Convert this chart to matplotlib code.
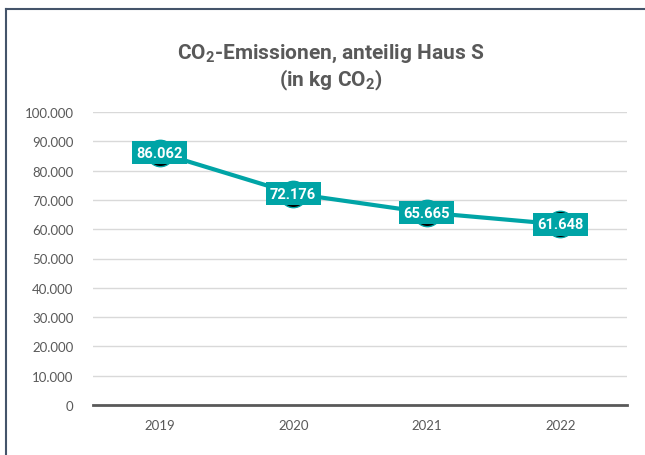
import matplotlib
matplotlib.use('Agg')
import matplotlib.pyplot as plt
from matplotlib.lines import Line2D

years = ['2019', '2020', '2021', '2022']
emissions = [86062, 72176, 65665, 61648]
labels = ['86.062', '72.176', '65.665', '61.648']
yticks = list(range(0, 100001, 10000))
ytick_labels = ['0'] + ['{:,}'.format(v).replace(',', '.') for v in yticks[1:]]

teal = '#00A4A6'
grey = '#595959'

plt.rcParams['font.family'] = ['Lato', 'DejaVu Sans']
plt.rcParams['mathtext.fontset'] = 'custom'
plt.rcParams['mathtext.rm'] = 'Roboto:bold'
plt.rcParams['mathtext.bf'] = 'Roboto:bold'

fig = plt.figure(figsize=(6.45, 4.56), dpi=100)
ax = fig.add_axes([93 / 645, 50 / 456, 534 / 645, 293 / 456])

x = list(range(len(years)))
ax.plot(x, emissions, color=teal, lw=3, marker='o', markersize=19,
        markerfacecolor='black', markeredgecolor=teal, markeredgewidth=1, zorder=3)
for xi, yi, lab in zip(x, emissions, labels):
    ax.text(xi, yi, lab, ha='center', va='center', color='white', fontsize=10.5,
            fontweight='bold', family=['Roboto', 'DejaVu Sans'], zorder=4,
            bbox=dict(boxstyle='square,pad=0.3', facecolor=teal, edgecolor='none'))

ax.set_xlim(-0.5, 3.5)
ax.set_ylim(0, 100000)
ax.set_yticks(yticks)
ax.set_yticklabels(ytick_labels)
ax.set_xticks(x)
ax.set_xticklabels(years)
ax.grid(axis='y', color='#d9d9d9', lw=1)
ax.set_axisbelow(True)
for s in ['top', 'right', 'left']:
    ax.spines[s].set_visible(False)
ax.spines['bottom'].set_color(grey)
ax.spines['bottom'].set_linewidth(2)
ax.tick_params(length=0, colors=grey, labelsize=9.5, pad=10)
ax.tick_params(axis='y', pad=14)

fig.text(331 / 645, 1 - 54 / 456, 'CO$_2$-Emissionen, anteilig Haus S',
         ha='center', va='center', fontsize=15, fontweight='bold', color=grey,
         family=['Roboto', 'DejaVu Sans'])
fig.text(331 / 645, 1 - 80 / 456, '(in kg CO$_2$)',
         ha='center', va='center', fontsize=15, fontweight='bold', color=grey,
         family=['Roboto', 'DejaVu Sans'])

# outer frame (left and top edges visible)
fig.add_artist(Line2D([6 / 645, 6 / 645], [0, 1 - 10 / 456], color='#44546A', lw=1.5))
fig.add_artist(Line2D([6 / 645, 1], [1 - 10 / 456, 1 - 10 / 456], color='#44546A', lw=1.5))

fig.savefig('out.png', dpi=100)
